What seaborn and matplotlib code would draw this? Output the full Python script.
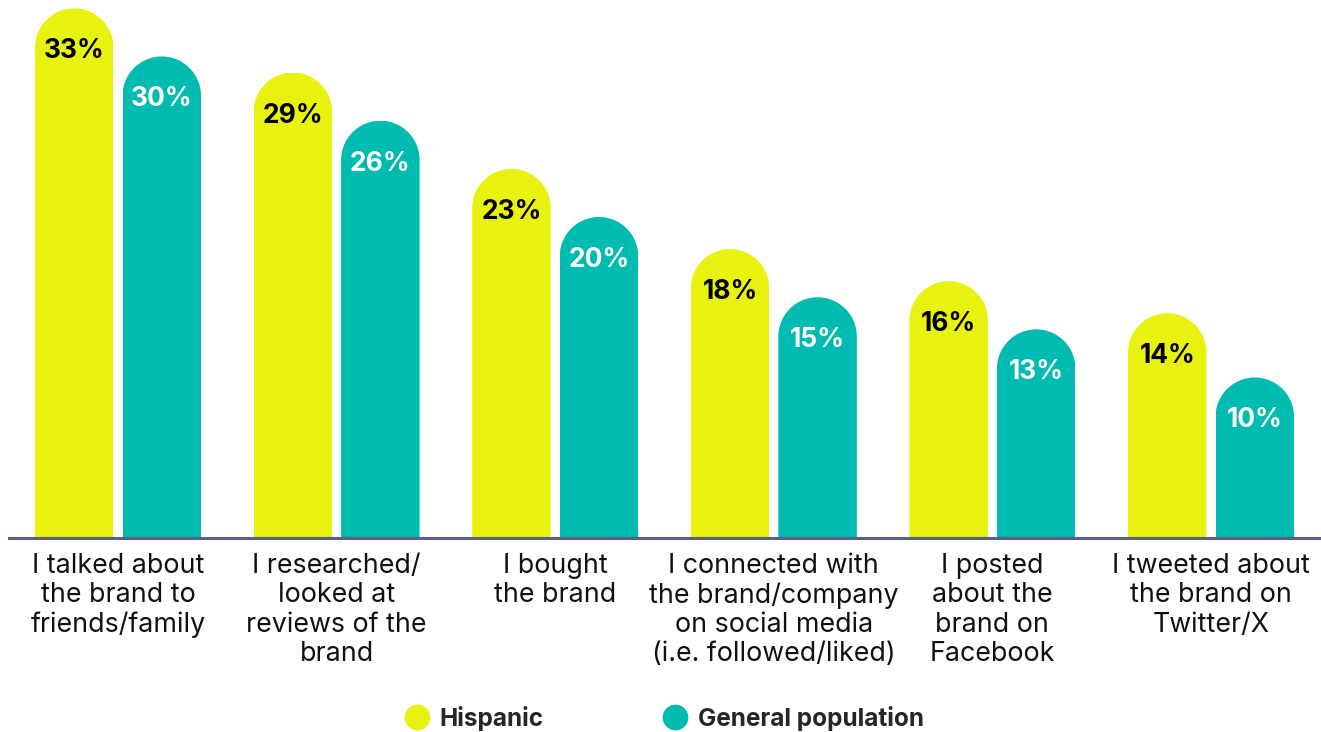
import numpy as np
import pandas as pd
import matplotlib
matplotlib.use("Agg")
import matplotlib.pyplot as plt
from matplotlib.patches import Polygon
from matplotlib.lines import Line2D
import seaborn as sns

# Survey data: share of respondents who took each action
categories = [
    "I talked about\nthe brand to\nfriends/family",
    "I researched/\nlooked at\nreviews of the\nbrand",
    "I bought\nthe brand",
    "I connected with\nthe brand/company\non social media\n(i.e. followed/liked)",
    "I posted\nabout the\nbrand on\nFacebook",
    "I tweeted about\nthe brand on\nTwitter/X",
]
hispanic = [33, 29, 23, 18, 16, 14]
general = [30, 26, 20, 15, 13, 10]
groups = ["Hispanic", "General population"]
colors = ["#E8F20E", "#00BBB0"]
label_colors = ["#000000", "#FFFFFF"]

df = pd.DataFrame({
    "activity": categories * 2,
    "group": [groups[0]] * len(categories) + [groups[1]] * len(categories),
    "pct": hispanic + general,
})

sns.set_theme(style="white")
plt.rcParams["font.family"] = ["Inter", "DejaVu Sans"]

W, H = 1321, 732
fig = plt.figure(figsize=(W / 100, H / 100), dpi=100)
ax = fig.add_axes([9 / W, 194 / H, 1312 / W, 538 / H])

sns.barplot(
    data=df, x="activity", y="pct", hue="group", palette=colors,
    width=0.8005, gap=0.103, linewidth=0, saturation=1,
    errorbar=None, legend=False, ax=ax,
)
ax.set_xlim(-0.4986, 5.503)
ax.set_ylim(0, 33.52)

# Pixel scale of each data unit, used to give bars semicircular tops
x0p, y0p = ax.transData.transform((0, 0))
px_per_x = ax.transData.transform((1, 0))[0] - x0p
px_per_y = ax.transData.transform((0, 1))[1] - y0p

theta = np.linspace(0, np.pi, 80)
for container, values, tcol in zip(ax.containers, [hispanic, general], label_colors):
    for bar, v in zip(container, values):
        bx, bw, bh = bar.get_x(), bar.get_width(), bar.get_height()
        rx = bw / 2
        ry = rx * px_per_x / px_per_y
        cx = bx + rx
        arc = np.column_stack([cx + rx * np.cos(theta), (bh - ry) + ry * np.sin(theta)])
        verts = np.vstack([[bx + bw, -1], [bx + bw, bh - ry], arc, [bx, bh - ry], [bx, -1]])
        clip = Polygon(verts, closed=True, transform=ax.transData)
        bar.set_clip_path(clip)
        ax.annotate(
            f"{v}%", xy=(cx, bh), xytext=(0, -43), textcoords="offset pixels",
            ha="center", va="center", fontsize=19, fontweight="bold", color=tcol,
        )

sns.despine(ax=ax, left=True, top=True, right=True)
ax.spines["bottom"].set_color("#5B5F86")
ax.spines["bottom"].set_linewidth(2.2)
ax.spines["bottom"].set_zorder(5)
ax.set_yticks([])
ax.set_xlabel("")
ax.set_ylabel("")
ax.tick_params(axis="x", length=0, pad=11, labelsize=19.3, labelcolor="#111111")
for lbl in ax.get_xticklabels():
    lbl.set_multialignment("center")
    lbl.set_linespacing(1.16)

handles = [
    Line2D([], [], marker="o", ls="none", markersize=18.5,
           markerfacecolor=c, markeredgewidth=0)
    for c in colors
]
fig.legend(
    handles, groups, loc="center", bbox_to_anchor=(0.503, 0.019), ncol=2,
    frameon=False, prop={"weight": "bold", "size": 17.5},
    columnspacing=4.9, handletextpad=0.45, handlelength=1,
)

fig.savefig("out.png", dpi=100)
